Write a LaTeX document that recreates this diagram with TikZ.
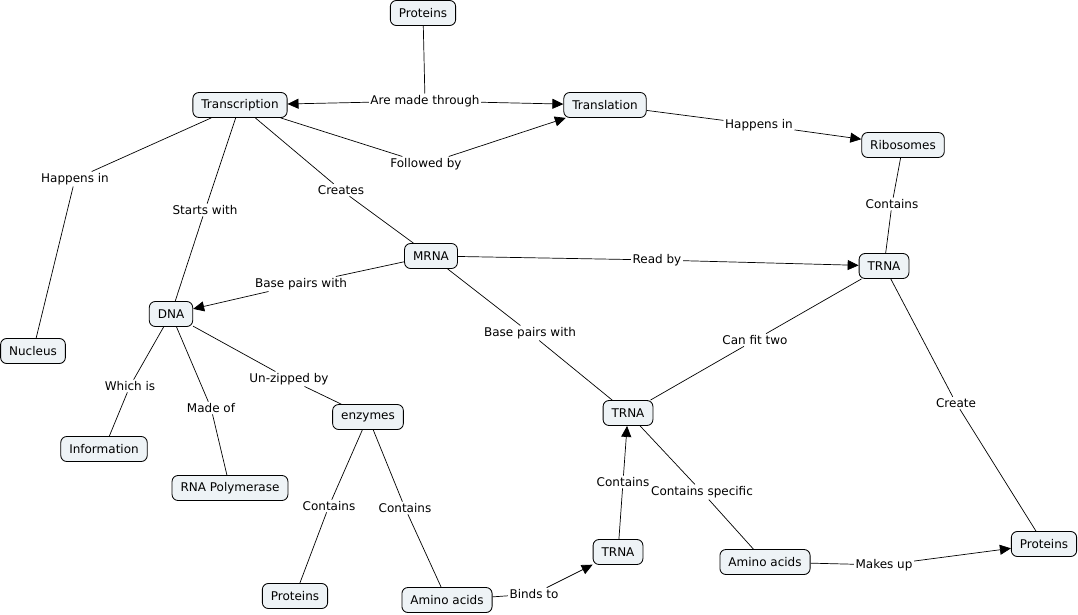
\documentclass[tikz,border=0pt]{standalone}
\usepackage{fontspec}
\setmainfont{DejaVu Sans}
\usetikzlibrary{arrows.meta}
\definecolor{nodefill}{RGB}{238,243,246}
\tikzset{
  concept/.style={draw=black, line width=0.85pt, rounded corners=6pt, fill=nodefill,
    inner xsep=8.5pt, inner ysep=0pt, minimum height=25pt, font=\fontsize{12}{14}\selectfont},
  link/.style={inner sep=1.5pt, font=\fontsize{12}{14}\selectfont},
  conn/.style={line width=0.7pt},
  arr/.style={line width=0.7pt, -{Triangle[length=11pt,width=10pt]}}
}
\begin{document}
\begin{tikzpicture}[x=1pt,y=-1pt]
\useasboundingbox (0,0) rectangle (1078,615);
% concepts
\node[concept] (protT) at (423,13) {Proteins};
\node[concept] (transc) at (240,105) {Transcription};
\node[concept] (transl) at (605,105) {Translation};
\node[concept] (ribo) at (903,145) {Ribosomes};
\node[concept] (mrna) at (431,256) {MRNA};
\node[concept] (trnaR) at (884,266) {TRNA};
\node[concept] (dna) at (171,314) {DNA};
\node[concept] (nucl) at (33,351) {Nucleus};
\node[concept] (enz) at (368,417) {enzymes};
\node[concept] (trnaM) at (628,413) {TRNA};
\node[concept] (info) at (104,449) {Information};
\node[concept] (rnap) at (230,488) {RNA Polymerase};
\node[concept] (protBL) at (295,596) {Proteins};
\node[concept] (aaL) at (447,600) {Amino acids};
\node[concept] (trnaB) at (618,552) {TRNA};
\node[concept] (aaR) at (765,562) {Amino acids};
\node[concept] (protR) at (1044,544) {Proteins};
% link labels
\node[link] (l1) at (425,101) {Are made through};
\node[link] (l2) at (426,164) {Followed by};
\node[link] (l3) at (759,125) {Happens in};
\node[link] (l4) at (75,179) {Happens in};
\node[link] (l5) at (205,210) {Starts with};
\node[link] (l6) at (341,190) {Creates};
\node[link] (l7) at (892,204) {Contains};
\node[link] (l8) at (657,260) {Read by};
\node[link] (l9) at (301,284) {Base pairs with};
\node[link] (l10) at (530,333) {Base pairs with};
\node[link] (l11) at (755,340) {Can fit two};
\node[link] (l12) at (956,403) {Create};
\node[link] (l13) at (130,386) {Which is};
\node[link] (l14) at (211,408) {Made of};
\node[link] (l15) at (289,379) {Un-zipped by};
\node[link] (l16) at (329,506) {Contains};
\node[link] (l17) at (405,508) {Contains};
\node[link] (l18) at (623,482) {Contains};
\node[link] (l19) at (702,492) {Contains specific};
\node[link] (l20) at (534,594) {Binds to};
\node[link] (l21) at (884,565) {Makes up};
% connectors
\draw[conn] (protT) -- (l1);
\draw[arr] (l1) -- (transc);
\draw[arr] (l1) -- (transl);
\draw[conn] (transc) -- (l2);
\draw[arr] (l2) -- (transl);
\draw[conn] (transl) -- (l3);
\draw[arr] (l3) -- (ribo);
\draw[conn] (transc) -- (l4) -- (nucl);
\draw[conn] (transc) -- (l5) -- (dna);
\draw[conn] (transc) -- (l6) -- (mrna);
\draw[conn] (ribo) -- (l7) -- (trnaR);
\draw[conn] (mrna) -- (l8);
\draw[arr] (l8) -- (trnaR);
\draw[conn] (mrna) -- (l9);
\draw[arr] (l9) -- (dna);
\draw[conn] (mrna) -- (l10) -- (trnaM);
\draw[conn] (trnaR) -- (l11) -- (trnaM);
\draw[conn] (trnaR) -- (l12) -- (protR);
\draw[conn] (dna) -- (l13) -- (info);
\draw[conn] (dna) -- (l14) -- (rnap);
\draw[conn] (dna) -- (l15) -- (enz);
\draw[conn] (enz) -- (l16) -- (protBL);
\draw[conn] (enz) -- (l17) -- (aaL);
\draw[conn] (trnaB) -- (l18);
\draw[arr] (l18) -- (trnaM);
\draw[conn] (trnaM) -- (l19) -- (aaR);
\draw[conn] (aaL) -- (l20);
\draw[arr] (l20) -- (trnaB);
\draw[conn] (aaR) -- (l21);
\draw[arr] (l21) -- (protR);
\end{tikzpicture}
\end{document}
